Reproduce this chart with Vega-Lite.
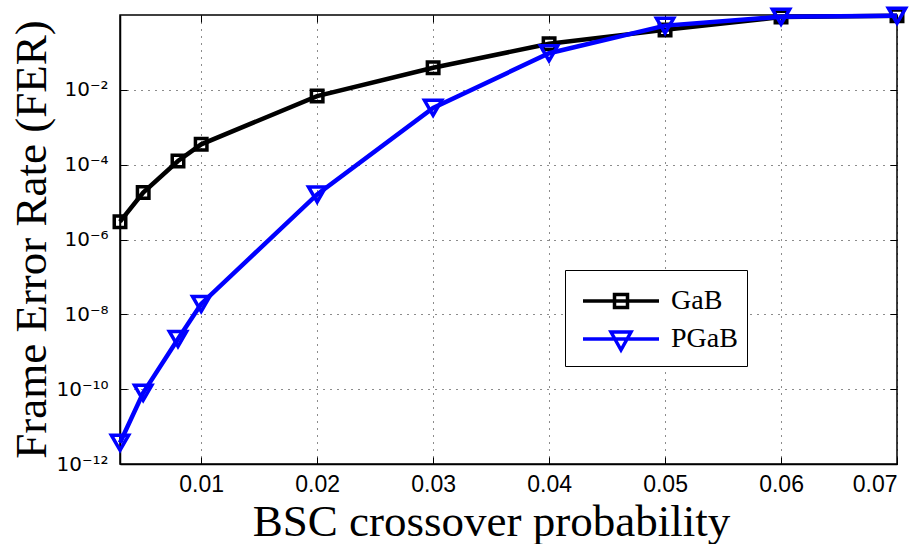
{
  "$schema": "https://vega.github.io/schema/vega-lite/v6.json",
  "width": 777,
  "height": 449,
  "autosize": "none",
  "padding": {"left": 120, "top": 15, "right": 24, "bottom": 80},
  "background": "white",
  "config": {
    "view": {"stroke": "black", "strokeWidth": 1.5},
    "axis": {
      "domainColor": "black",
      "domainWidth": 1.5,
      "tickColor": "black",
      "tickWidth": 1,
      "tickSize": -7,
      "labelColor": "black",
      "labelFont": "Liberation Sans",
      "labelFontSize": 23,
      "titleFont": "Liberation Serif",
      "titleFontSize": 45,
      "titleFontWeight": "normal",
      "titleColor": "black",
      "gridColor": "black",
      "gridDash": [1, 6],
      "gridWidth": 1,
      "gridOpacity": 0.9
    }
  },
  "data": {
    "values": [
      {"p": 0.003, "fer": 3e-6, "series": "GaB"},
      {"p": 0.005, "fer": 1.8e-5, "series": "GaB"},
      {"p": 0.008, "fer": 1.25e-4, "series": "GaB"},
      {"p": 0.01, "fer": 3.5e-4, "series": "GaB"},
      {"p": 0.02, "fer": 6.8e-3, "series": "GaB"},
      {"p": 0.03, "fer": 3.9e-2, "series": "GaB"},
      {"p": 0.04, "fer": 0.17, "series": "GaB"},
      {"p": 0.05, "fer": 0.4, "series": "GaB"},
      {"p": 0.06, "fer": 0.88, "series": "GaB"},
      {"p": 0.07, "fer": 0.96, "series": "GaB"},
      {"p": 0.003, "fer": 3.7e-12, "series": "PGaB"},
      {"p": 0.005, "fer": 8e-11, "series": "PGaB"},
      {"p": 0.008, "fer": 2.2e-9, "series": "PGaB"},
      {"p": 0.01, "fer": 1.9e-8, "series": "PGaB"},
      {"p": 0.02, "fer": 1.6e-5, "series": "PGaB"},
      {"p": 0.03, "fer": 3.3e-3, "series": "PGaB"},
      {"p": 0.04, "fer": 0.095, "series": "PGaB"},
      {"p": 0.05, "fer": 0.52, "series": "PGaB"},
      {"p": 0.06, "fer": 0.9, "series": "PGaB"},
      {"p": 0.07, "fer": 0.96, "series": "PGaB"}
    ]
  },
  "resolve": {"axis": {"x": "independent", "y": "independent"}},
  "layer": [
    {
      "transform": [{"filter": "datum.series === 'GaB'"}],
      "mark": {"type": "line", "strokeWidth": 4.5},
      "encoding": {
        "x": {
          "field": "p", "type": "quantitative",
          "scale": {"domain": [0.003, 0.07], "nice": false, "zero": false},
          "axis": {
            "title": "BSC crossover probability",
            "values": [0.01, 0.02, 0.03, 0.04, 0.05, 0.06, 0.07],
            "format": ".2f",
            "grid": true,
            "labelPadding": 16,
            "labelBaseline": "top",
            "titleX": 371,
            "titleY": 71,
            "titleAlign": "center",
            "titleBaseline": "alphabetic"
          }
        },
        "y": {
          "field": "fer", "type": "quantitative",
          "scale": {"type": "log", "domain": [1e-12, 1], "nice": false},
          "axis": {
            "title": "Frame Error Rate (FER)",
            "values": [1e-12, 1e-10, 1e-8, 1e-6, 1e-4, 1e-2],
            "labelExpr": "'10' + ['⁻¹²','⁻¹⁰','⁻⁸','⁻⁶','⁻⁴','⁻²','⁰'][round((log(datum.value)/LN10 + 12)/2)]",
            "labelFont": "DejaVu Sans",
            "labelFontSize": 20,
            "grid": true,
            "labelPadding": 19,
            "titleAngle": 270,
            "titleX": -75,
            "titleY": 224,
            "titleAlign": "center",
            "titleBaseline": "alphabetic"
          }
        },
        "color": {
          "field": "series", "type": "nominal",
          "scale": {"domain": ["GaB", "PGaB"], "range": ["black", "#0000ff"]},
          "legend": {
            "orient": "none",
            "legendX": 445,
            "legendY": 255,
            "title": null,
            "strokeColor": "black",
            "fillColor": "white",
            "padding": 9,
            "symbolSize": 1600,
            "rowPadding": 2,
            "labelOffset": 53,
            "labelFont": "Liberation Serif",
            "labelFontSize": 28,
            "labelColor": "black",
            "symbolStrokeWidth": 3.5,
            "encode": {
              "symbols": {
                "update": {
                  "shape": [
                    {"test": "datum.value === 'GaB'", "value": "M-0.65,0H3.15M0.925,-0.325H1.575V0.325H0.925Z"},
                    {"value": "M-0.65,0H3.15M0.75,-0.35H1.75L1.25,0.55Z"}
                  ],
                  "fill": {"value": "transparent"},
                  "strokeWidth": {"value": 3.5},
                  "size": {"value": 1600}
                }
              }
            }
          }
        }
      }
    },
    {
      "transform": [{"filter": "datum.series === 'GaB'"}],
      "mark": {"type": "point", "shape": "square", "filled": false, "strokeWidth": 3.5, "size": 132, "opacity": 1},
      "encoding": {
        "x": {"field": "p", "type": "quantitative",
          "axis": {"orient": "top", "title": null, "labels": false, "grid": false, "domain": false,
            "values": [0.01, 0.02, 0.03, 0.04, 0.05, 0.06, 0.07]}},
        "y": {"field": "fer", "type": "quantitative",
          "axis": {"orient": "right", "title": null, "labels": false, "grid": false, "domain": false,
            "values": [1e-12, 1e-10, 1e-8, 1e-6, 1e-4, 1e-2]}},
        "color": {"field": "series", "type": "nominal"}
      }
    },
    {
      "transform": [{"filter": "datum.series === 'PGaB'"}],
      "mark": {"type": "line", "strokeWidth": 4.5},
      "encoding": {
        "x": {"field": "p", "type": "quantitative", "axis": null},
        "y": {"field": "fer", "type": "quantitative", "axis": null},
        "color": {"field": "series", "type": "nominal"}
      }
    },
    {
      "transform": [{"filter": "datum.series === 'PGaB'"}],
      "mark": {"type": "point", "shape": "triangle-down", "filled": false, "strokeWidth": 3.5, "size": 300, "opacity": 1},
      "encoding": {
        "x": {"field": "p", "type": "quantitative", "axis": null},
        "y": {"field": "fer", "type": "quantitative", "axis": null},
        "color": {"field": "series", "type": "nominal"}
      }
    }
  ]
}
